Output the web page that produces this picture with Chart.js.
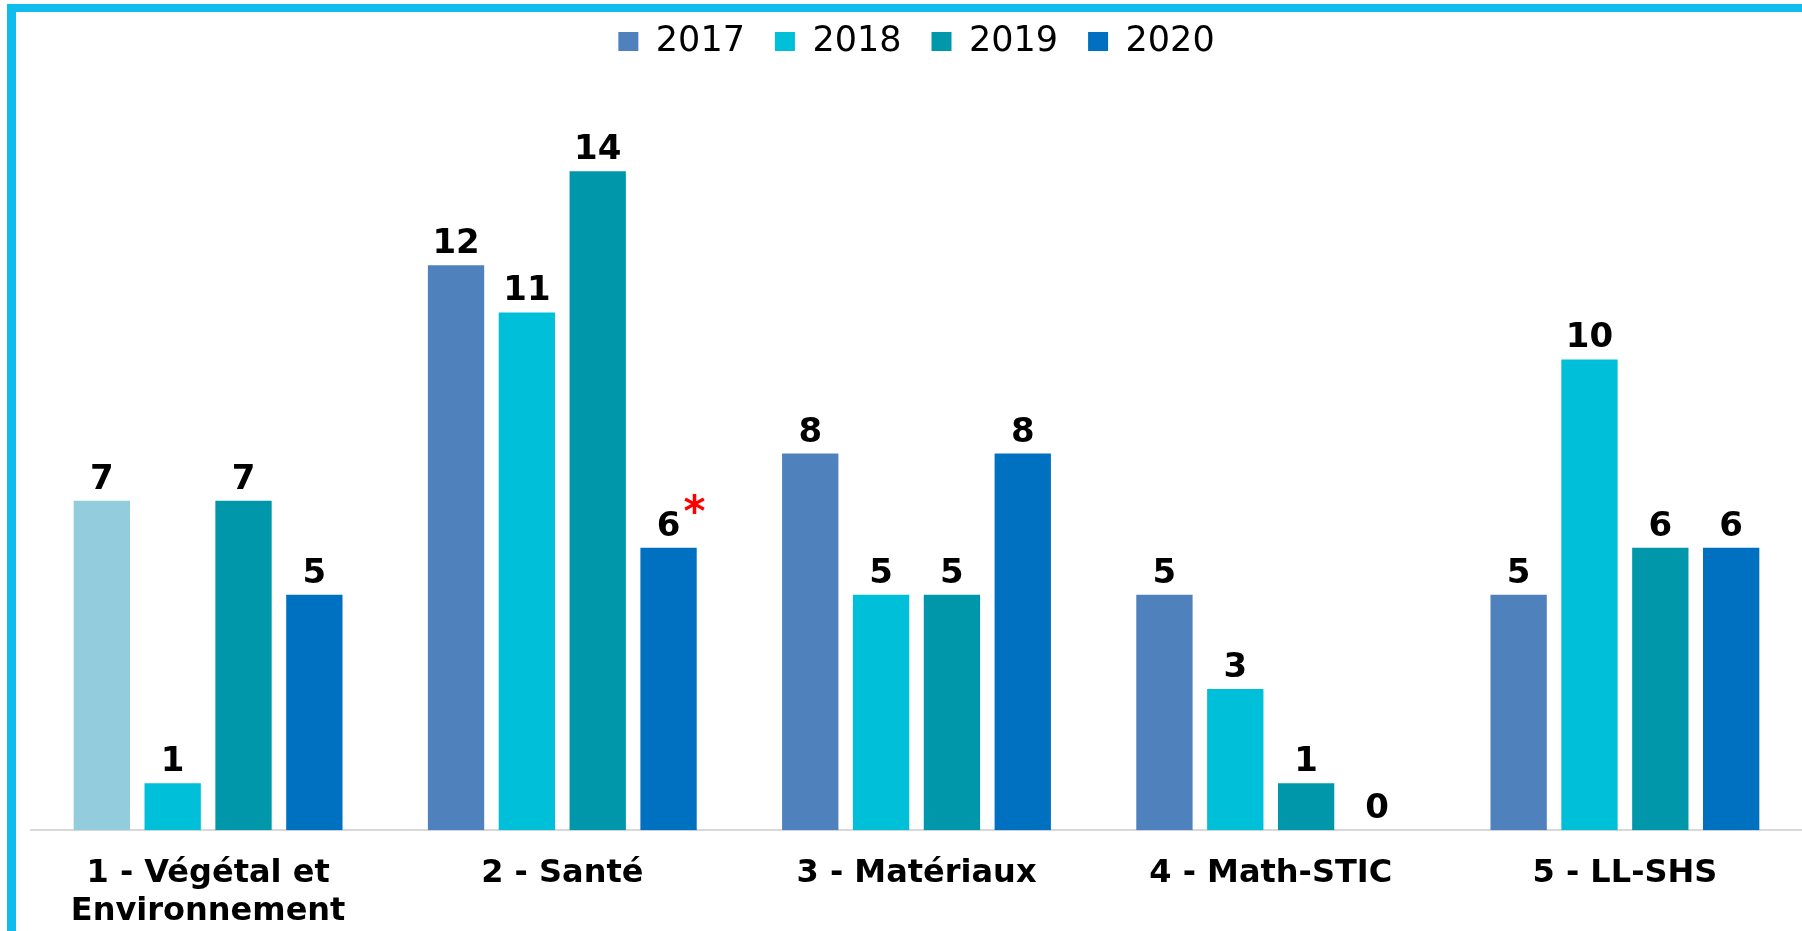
<!DOCTYPE html>
<html>
<head>
<meta charset="utf-8">
<script src="https://cdn.jsdelivr.net/npm/chart.js@4/dist/chart.umd.min.js"></script>
<style>
  html, body { margin:0; padding:0; background:#fff; width:1802px; height:931px; overflow:hidden; }
  #frame { position:absolute; left:7px; top:4px; right:0; bottom:0; border-top:8px solid #10BCEE; border-left:9px solid #10BCEE; }
  #c { position:absolute; left:0; top:0; }
</style>
</head>
<body>
<div id="frame"></div>
<canvas id="c" width="1802" height="931"></canvas>
<script>
// ---- data ----
const categories = [["1 - Végétal et", "Environnement"], "2 - Santé", "3 - Matériaux", "4 - Math-STIC", "5 - LL-SHS"];
const seriesNames = ["2017", "2018", "2019", "2020"];
const values2017 = [7, 12, 8, 5, 5];
const values2018 = [1, 11, 5, 3, 10];
const values2019 = [7, 14, 5, 1, 6];
const values2020 = [5, 6, 8, 0, 6];
const notes = [{ series: 3, index: 1, text: "*" }];

// ---- styles ----
const colors = ["#4F81BD", "#00BFD8", "#0097AB", "#0070C0"];
const firstBarColor = "#93CDDD";
const FONT = '"DejaVu Sans", Verdana, sans-serif';

const allValues = [values2017, values2018, values2019, values2020];
const datasets = allValues.map((vals, i) => ({
  label: seriesNames[i],
  data: vals,
  backgroundColor: i === 0 ? vals.map((v, j) => j === 0 ? firstBarColor : colors[0]) : colors[i],
  borderWidth: 0,
  categoryPercentage: 0.80,
  barPercentage: 0.795
}));

const valueLabels = {
  id: 'valueLabels',
  afterDatasetsDraw(chart) {
    const ctx = chart.ctx;
    ctx.save();
    ctx.font = 'bold 34px ' + FONT;
    ctx.fillStyle = '#000';
    ctx.textAlign = 'center';
    ctx.textBaseline = 'alphabetic';
    chart.data.datasets.forEach((ds, i) => {
      const meta = chart.getDatasetMeta(i);
      meta.data.forEach((bar, j) => {
        ctx.fillText(String(ds.data[j]), bar.x, bar.y - 12);
      });
    });
    ctx.font = 'bold 42px ' + FONT;
    ctx.fillStyle = '#FF0000';
    ctx.textAlign = 'left';
    notes.forEach(n => {
      const bar = chart.getDatasetMeta(n.series).data[n.index];
      ctx.fillText(n.text, bar.x + 15, bar.y - 22);
    });
    ctx.restore();
  }
};

new Chart(document.getElementById('c'), {
  type: 'bar',
  data: { labels: categories, datasets },
  options: {
    responsive: false,
    devicePixelRatio: 1,
    animation: false,
    layout: { padding: { left: 31, right: 0, top: -6, bottom: -24 } },
    plugins: {
      legend: {
        position: 'top',
        labels: {
          boxWidth: 20, boxHeight: 19, padding: 30,
          color: '#000',
          font: { family: FONT, size: 35 },
          generateLabels(chart) {
            return chart.data.datasets.map((ds, i) => ({
              text: ds.label, fillStyle: colors[i], strokeStyle: colors[i], lineWidth: 0, datasetIndex: i, hidden: false
            }));
          }
        }
      },
      tooltip: { enabled: false }
    },
    scales: {
      x: {
        grid: { display: false, drawTicks: false },
        border: { display: true, color: '#D9D9D9', width: 2 },
        ticks: { color: '#000', font: { family: FONT, size: 32, weight: 'bold' }, padding: 24, maxRotation: 0, autoSkip: false }
      },
      y: { display: false, min: 0, max: 16.17 }
    }
  },
  plugins: [valueLabels]
});
</script>
</body>
</html>
